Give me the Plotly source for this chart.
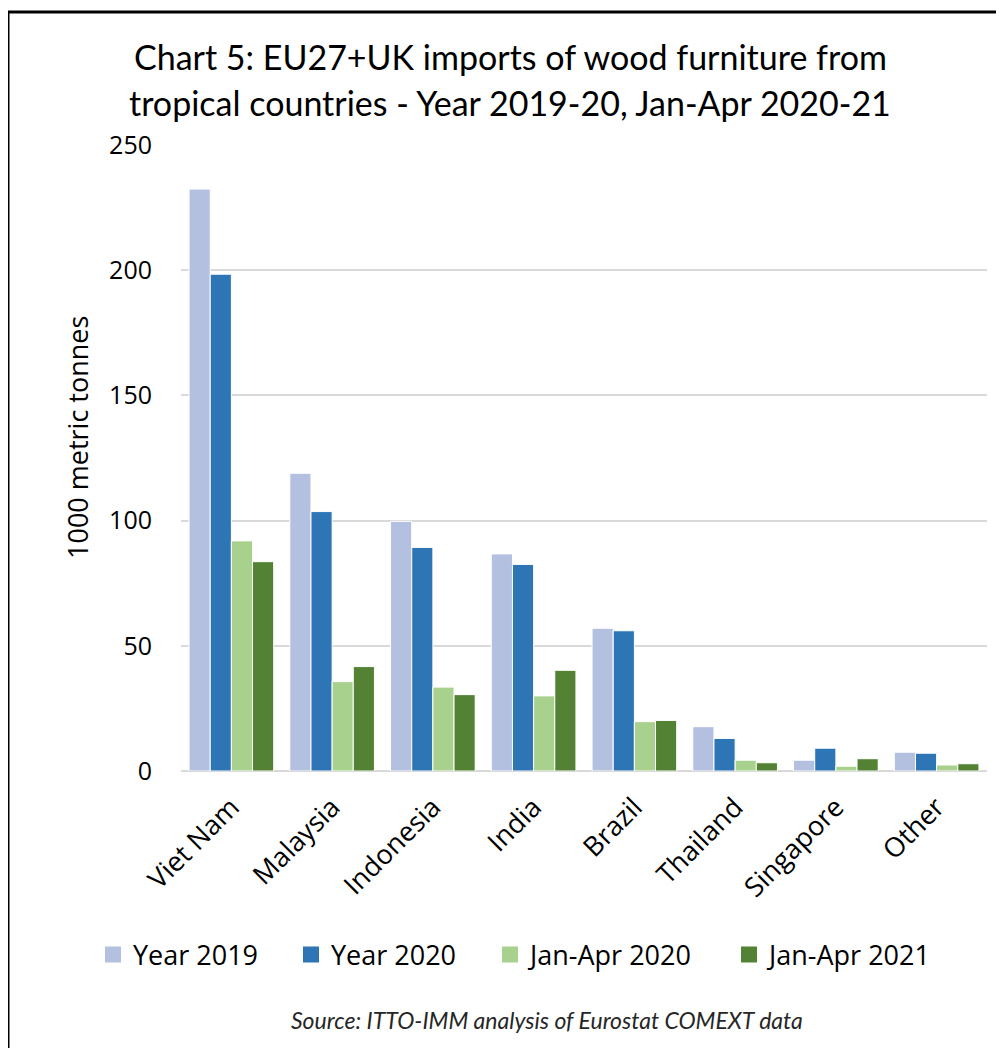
import plotly.graph_objects as go

categories = ["Viet Nam", "Malaysia", "Indonesia", "India", "Brazil", "Thailand", "Singapore", "Other"]
year_2019 = [232.4, 118.9, 99.7, 86.7, 57.0, 17.7, 4.3, 7.5]
year_2020 = [198.4, 103.6, 89.3, 82.5, 56.0, 13.0, 9.1, 7.1]
jan_apr_2020 = [91.9, 35.7, 33.5, 30.0, 19.7, 4.3, 1.9, 2.4]
jan_apr_2021 = [83.6, 41.7, 30.5, 40.2, 20.2, 3.3, 4.9, 2.9]
series_names = ["Year 2019", "Year 2020", "Jan-Apr 2020", "Jan-Apr 2021"]
series_values = [year_2019, year_2020, jan_apr_2020, jan_apr_2021]
y_ticks = [0, 50, 100, 150, 200, 250]

colors = ["#B4C0E0", "#2E75B6", "#A9D18E", "#548235"]

# page has an 8px body margin; work in page pixel coordinates
OFF = 8
W, H = 996, 1040
L, T = 181 - OFF, 145 - OFF
R = W - (987 - OFF)
B = H - (771 - OFF)
PW, PH = W - L - R, H - T - B


def px_x(x):
    return (x - OFF - L) / PW


def px_y(y):
    return (H - B - (y - OFF)) / PH


fig = go.Figure()
for name, vals, col in zip(series_names, series_values, colors):
    fig.add_trace(go.Bar(
        x=categories, y=vals, name=name, showlegend=False,
        marker=dict(color=col, line=dict(color="white", width=1)),
    ))

legend_names = ["legend", "legend2", "legend3", "legend4"]
legend_x = [106, 304, 503, 742]
for name, col, lg in zip(series_names, colors, legend_names):
    fig.add_trace(go.Scatter(
        x=[None], y=[None], mode="markers", name=name, legend=lg,
        marker=dict(symbol="square", size=16, color=col),
    ))

font_main = "Open Sans"
layout_legends = {}
for lg, lx in zip(legend_names, legend_x):
    layout_legends[lg] = dict(
        x=px_x(lx - 13), y=px_y(955), xanchor="left", yanchor="middle",
        orientation="h", font=dict(family=font_main, size=27, color="#000"),
        bgcolor="rgba(0,0,0,0)", borderwidth=0, itemsizing="trace",
    )

fig.update_layout(
    width=W, height=H,
    margin=dict(l=L, r=R, t=T, b=B),
    paper_bgcolor="white", plot_bgcolor="white",
    barmode="group", bargap=0.16, bargroupgap=0,
    showlegend=True,
    **layout_legends,
)

fig.update_yaxes(
    range=[0, 250], tickvals=y_ticks, ticks="", showline=False,
    gridcolor="#D9D9D9", gridwidth=2,
    zeroline=True, zerolinecolor="#D9D9D9", zerolinewidth=2,
    tickfont=dict(family=font_main, size=25, color="#000"),
    ticklabelstandoff=28,
)
fig.update_xaxes(
    ticks="", showline=False, tickangle=-45,
    tickfont=dict(family=font_main, size=27, color="#000"),
    ticklabelstandoff=14,
)

title_font = dict(family="Lato", size=34, color="#000")
fig.add_annotation(text="Chart 5: EU27+UK imports of wood furniture from",
                   x=px_x(510), y=px_y(57), xref="paper", yref="paper",
                   showarrow=False, xanchor="center", yanchor="middle", font=title_font)
fig.add_annotation(text="tropical countries - Year 2019-20, Jan-Apr 2020-21",
                   x=px_x(510), y=px_y(103), xref="paper", yref="paper",
                   showarrow=False, xanchor="center", yanchor="middle", font=title_font)
fig.add_annotation(text="1000 metric tonnes", textangle=-90,
                   x=px_x(78), y=px_y(437), xref="paper", yref="paper",
                   showarrow=False, xanchor="center", yanchor="middle",
                   font=dict(family=font_main, size=27, color="#000"))
fig.add_annotation(text="<i>Source: ITTO-IMM analysis of Eurostat COMEXT data</i>",
                   x=px_x(547), y=px_y(1020), xref="paper", yref="paper",
                   showarrow=False, xanchor="center", yanchor="middle",
                   font=dict(family="Lato", size=23, color="#262626"))

fig.add_shape(type="rect", xref="paper", yref="paper",
              x0=px_x(8), x1=px_x(1020), y0=px_y(1070), y1=px_y(12),
              line=dict(color="black", width=3), fillcolor="rgba(0,0,0,0)", layer="above")

fig.write_html("out.html")
